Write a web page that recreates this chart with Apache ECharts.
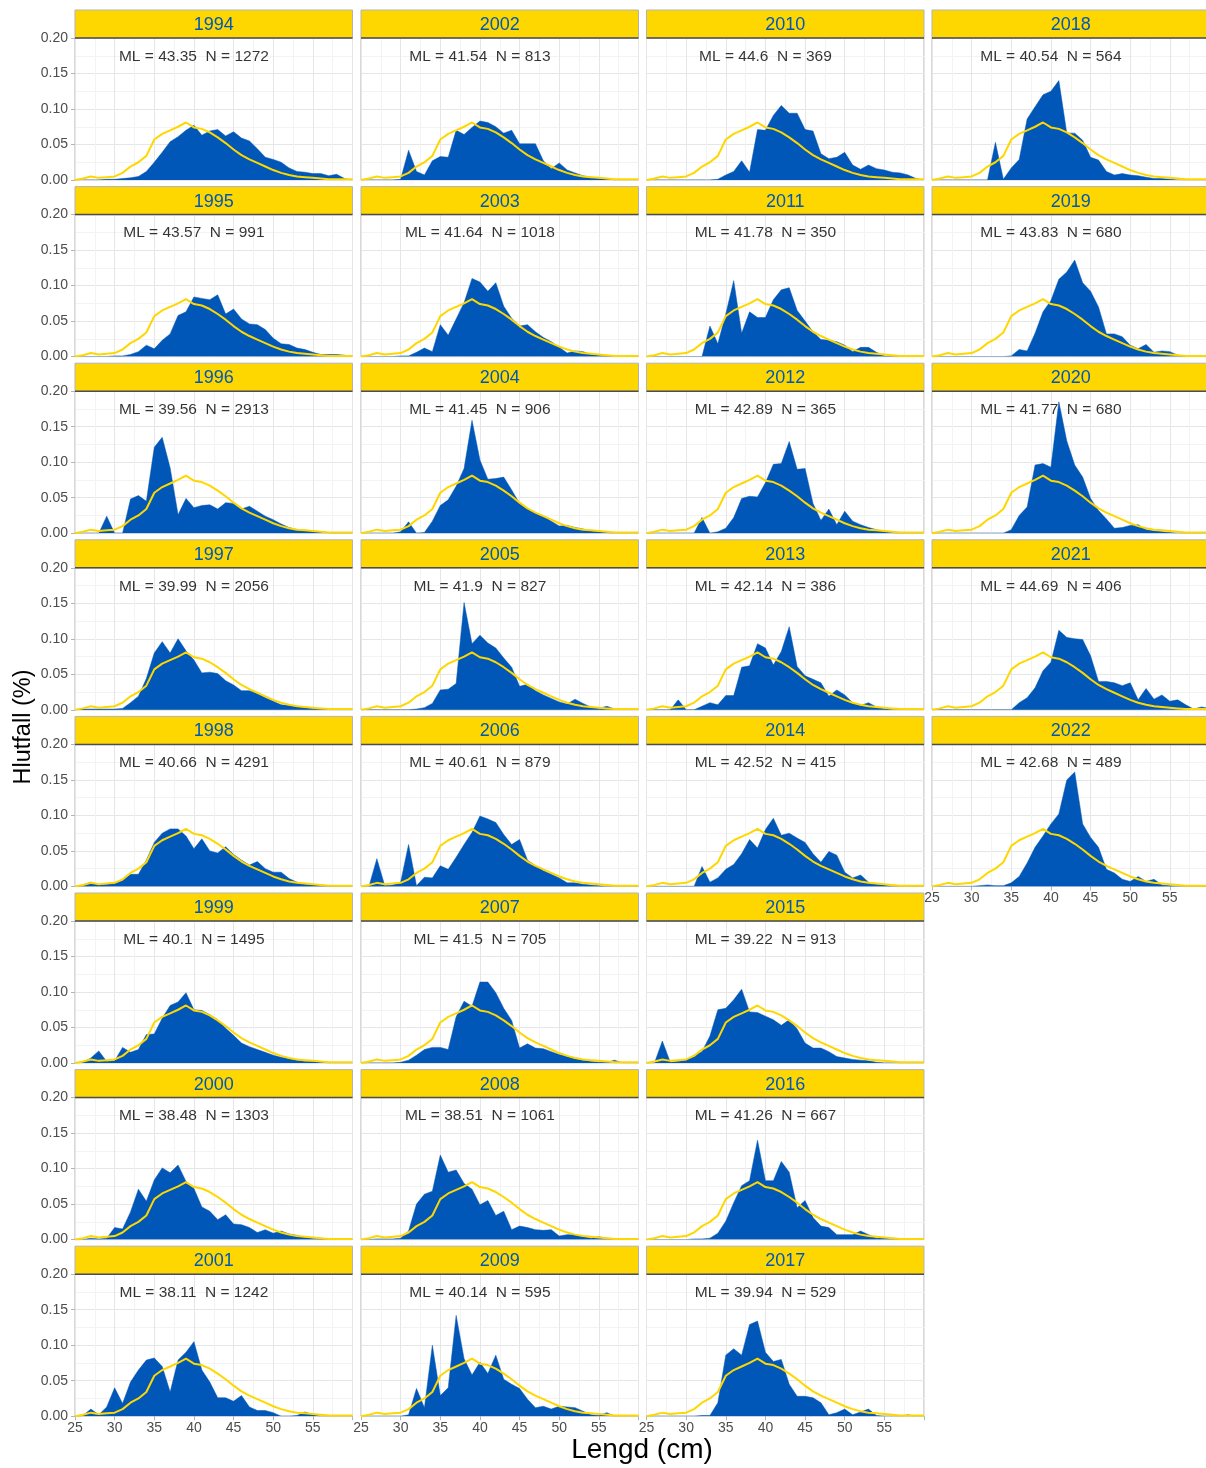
<!DOCTYPE html>
<html><head><meta charset="utf-8">
<script src="https://cdn.jsdelivr.net/npm/echarts@6/dist/echarts.min.js"></script>
<style>html,body{margin:0;padding:0;background:#fff;overflow:hidden;width:1206px;height:1468px}#c{width:1216px;height:1468px}</style>
</head><body><div id="c"></div>
<script>
// ---- data ----
const lengths = [25,26,27,28,29,30,31,32,33,34,35,36,37,38,39,40,41,42,43,44,45,46,47,48,49,50,51,52,53,54,55,56,57,58,59,60];
const xTickLabels = ['25','30','35','40','45','50','55'];
const yTickLabels = ['0.00','0.05','0.10','0.15','0.20'];
const years = [1994,1995,1996,1997,1998,1999,2000,2001,2002,2003,2004,2005,2006,2007,2008,2009,2010,2011,2012,2013,2014,2015,2016,2017,2018,2019,2020,2021,2022];
const mlValues = ['43.35','43.57','39.56','39.99','40.66','40.1','38.48','38.11','41.54','41.64','41.45','41.9','40.61','41.5','38.51','40.14','44.6','41.78','42.89','42.14','42.52','39.22','41.26','39.94','40.54','43.83','41.77','44.69','42.68'];
const nValues = [1272,991,2913,2056,4291,1495,1303,1242,813,1018,906,827,879,705,1061,595,369,350,365,386,415,913,667,529,564,680,680,406,489];

const overall = [0,.002,.005,.003,.004,.005,.010,.019,.025,.034,.057,.065,.070,.075,.081,.074,.072,.067,.060,.052,.043,.035,.029,.024,.019,.014,.010,.007,.005,.004,.003,.002,.001,.001,.001,.001];

const y1994 = [0,0,0,0,.001,.001,.002,.003,.005,.012,.025,.039,.054,.061,.070,.077,.063,.069,.071,.062,.068,.059,.055,.044,.032,.029,.025,.017,.012,.011,.009,.009,.006,.008,.002,0];
const y1995 = [0,0,0,0,0,.001,.001,.003,.007,.016,.011,.023,.032,.058,.063,.084,.082,.080,.087,.060,.067,.053,.046,.045,.038,.026,.018,.017,.012,.010,.006,.003,.003,.003,.002,0];
const y1996 = [0,0,0,0,.024,0,0,.048,.053,.045,.121,.135,.092,.026,.049,.036,.039,.040,.034,.043,.042,.034,.038,.031,.024,.019,.013,.008,.005,.004,.003,.002,.001,0,0,0];
const y1997 = [0,.001,.001,.001,.001,.001,.002,.010,.019,.044,.080,.096,.080,.100,.083,.070,.052,.053,.051,.041,.035,.027,.027,.023,.017,.012,.007,.006,.005,.003,.002,.002,.001,0,0,0];
const y1998 = [0,.002,.006,.002,.003,.004,.008,.017,.017,.037,.062,.075,.081,.081,.071,.053,.067,.050,.047,.056,.045,.037,.030,.035,.025,.020,.020,.011,.006,.003,.002,.002,.001,0,0,0];
const y1999 = [0,.001,.007,.017,.002,.003,.022,.015,.019,.040,.041,.063,.081,.086,.099,.075,.074,.068,.061,.049,.039,.028,.023,.019,.015,.011,.008,.006,.004,.002,.002,.001,0,0,0,0];
const y2000 = [0,0,.002,.001,.002,.017,.015,.039,.071,.054,.084,.101,.094,.105,.082,.072,.046,.040,.028,.035,.022,.021,.017,.010,.014,.009,.012,.008,.006,.003,.002,.001,0,0,0,0];
const y2001 = [0,.001,.010,.002,.013,.040,.018,.048,.065,.079,.082,.070,.034,.079,.090,.105,.065,.048,.026,.026,.021,.029,.013,.008,.008,.005,0,0,.001,.006,.002,0,0,0,0,0];
const y2002 = [0,0,0,0,0,.001,.042,.012,.007,.027,.033,.032,.070,.064,.074,.083,.081,.075,.066,.070,.051,.051,.051,.027,.016,.024,.014,.010,.006,.004,.002,.001,0,0,0,0];
const y2003 = [0,0,0,0,0,.001,.001,.006,.012,.007,.045,.030,.053,.076,.110,.105,.092,.104,.071,.054,.043,.045,.035,.027,.021,.013,.005,.008,.007,.003,.002,.001,0,0,0,0];
const y2004 = [0,0,0,0,0,.002,.016,0,.001,.017,.039,.047,.066,.091,.159,.103,.076,.077,.079,.061,.042,.034,.029,.024,.017,.010,.011,.008,.006,.003,.002,.001,0,0,0,0];
const y2005 = [0,0,0,0,0,0,0,.001,.003,.009,.028,.029,.037,.151,.093,.105,.094,.087,.073,.060,.033,.036,.027,.021,.016,.011,.008,.015,.009,.004,.002,.005,.001,0,0,0];
const y2006 = [0,0,.039,.001,.002,.006,.059,.001,.013,.012,.029,.024,.041,.059,.076,.099,.095,.090,.073,.059,.066,.037,.029,.022,.017,.012,.005,.005,.003,.002,.001,0,0,0,0,0];
const y2007 = [0,0,0,0,0,.001,.004,.011,.019,.022,.022,.019,.065,.087,.080,.114,.114,.099,.077,.060,.021,.027,.021,.020,.016,.012,.009,.006,.004,.002,.001,.001,.004,0,0,0];
const y2008 = [0,0,.001,.001,.001,.002,.012,.050,.064,.068,.119,.095,.098,.079,.071,.049,.055,.034,.040,.014,.019,.017,.014,.013,.014,.005,.007,.007,.004,.002,.004,.002,0,0,0,0];
const y2009 = [0,0,0,0,0,0,.002,.039,.012,.100,.029,.040,.142,.081,.058,.076,.060,.086,.052,.045,.039,.024,.012,.014,.010,.014,.013,.012,.007,.002,.001,.005,0,0,0,0];
const y2010 = [0,0,0,0,0,0,0,0,0,.001,.007,.012,.027,.011,.071,.070,.091,.105,.094,.094,.071,.069,.037,.030,.032,.039,.021,.015,.021,.016,.014,.011,.010,.007,.002,0];
const y2011 = [0,0,0,0,0,0,0,0,.043,.018,.060,.107,.033,.063,.055,.055,.080,.094,.097,.065,.050,.035,.024,.023,.021,.016,.007,.013,.013,.006,.001,0,0,0,0,0];
const y2012 = [0,0,0,0,0,0,0,.022,0,.002,.007,.022,.049,.052,.051,.071,.097,.098,.129,.090,.091,.042,.018,.034,.012,.031,.017,.012,.008,.005,.002,.001,0,0,0,0];
const y2013 = [0,0,0,0,.014,0,0,.005,.010,.007,.020,.020,.060,.062,.093,.087,.063,.082,.117,.061,.048,.043,.038,.019,.028,.021,.010,.006,.010,.004,.002,0,0,0,0,0];
const y2014 = [0,0,0,0,0,0,0,.028,.006,.012,.024,.031,.046,.066,.054,.080,.096,.072,.075,.068,.062,.046,.034,.049,.044,.020,.012,.016,.006,.003,.002,0,0,0,0,0];
const y2015 = [0,0,.031,.001,.002,.004,.011,.016,.038,.075,.077,.089,.104,.072,.071,.066,.061,.053,.061,.048,.028,.021,.021,.016,.009,.007,.005,.004,.003,.001,0,0,0,0,0,0];
const y2016 = [0,0,0,0,0,0,.001,.001,.002,.009,.026,.052,.076,.083,.140,.083,.083,.110,.095,.045,.055,.031,.019,.017,.007,.007,.007,.012,.007,.002,.003,.002,.001,0,0,0];
const y2017 = [0,0,0,0,0,0,0,.001,.001,.019,.086,.095,.086,.129,.134,.090,.077,.080,.045,.028,.028,.026,.019,.002,.005,.010,.002,.006,.010,.001,0,0,0,.002,0,0];
const y2018 = [0,0,0,0,0,0,0,0,.053,.001,.017,.029,.086,.103,.120,.125,.140,.066,.066,.056,.032,.028,.012,.007,.009,.007,.006,.004,.002,.002,.001,0,0,0,0,0];
const y2019 = [0,0,0,0,0,0,0,0,0,0,.001,.010,.008,.033,.063,.079,.109,.119,.136,.104,.092,.070,.032,.032,.028,.016,.011,.017,.006,.008,.007,.002,0,0,0,0];
const y2020 = [0,0,0,0,0,0,0,0,0,0,.005,.025,.037,.096,.098,.093,.185,.130,.096,.079,.049,.032,.020,.007,.008,.011,.012,.005,.003,.002,.001,0,0,0,0,0];
const y2021 = [0,0,0,0,0,0,0,0,0,0,0,.010,.017,.031,.055,.067,.112,.102,.100,.099,.076,.040,.040,.038,.034,.038,.014,.030,.015,.021,.012,.014,.007,.001,.004,.002];
const y2022 = [0,0,0,0,0,0,.001,.002,.001,.001,.005,.014,.033,.055,.071,.088,.102,.150,.161,.088,.069,.055,.024,.019,.010,.007,.014,.007,.010,.002,.001,0,0,0,0,0];

const yearValues = [y1994,y1995,y1996,y1997,y1998,y1999,y2000,y2001,y2002,y2003,y2004,y2005,y2006,y2007,y2008,y2009,y2010,y2011,y2012,y2013,y2014,y2015,y2016,y2017,y2018,y2019,y2020,y2021,y2022];

// ---- layout / style ----
const BLUE = '#0057B7', GOLD = '#FFD700';
const FONT = '"Liberation Sans", Arial, Helvetica, sans-serif';
const colLeft = [75, 361, 646.5, 932];
const panelW = 277.5, panelH = 142, stripH = 28, rowPitch = 176.6, firstTop = 38;

const grids = [], xAxes = [], yAxes = [], series = [], graphics = [];

years.forEach((yr, i) => {
  const col = Math.floor(i / 8), row = i % 8;
  const left = colLeft[col], top = firstTop + row * rowPitch;
  const isBottom = row === 7 || (col === 3 && row === 4);
  grids.push({left: left, top: top, width: panelW, height: panelH, show: true,
    backgroundColor: '#fff', borderColor: '#b3b3b3', borderWidth: 1, containLabel: false});
  xAxes.push({gridIndex: i, type: 'value', min: 25, max: 60, interval: 5,
    axisLine: {show: false},
    axisTick: {show: isBottom, length: 4, lineStyle: {color: '#b3b3b3'}},
    axisLabel: {show: isBottom, color: '#4d4d4d', fontSize: 14, fontFamily: FONT, margin: 5,
      formatter: v => { const k = (v - 25) / 5; return xTickLabels[k] !== undefined ? xTickLabels[k] : ''; }},
    splitLine: {show: true, lineStyle: {color: '#e6e6e6', width: 1}},
    minorTick: {show: false, splitNumber: 2},
    minorSplitLine: {show: true, lineStyle: {color: '#f3f3f3', width: 1}}
  });
  yAxes.push({gridIndex: i, type: 'value', min: 0, max: 0.2, interval: 0.05,
    axisLine: {show: false},
    axisTick: {show: col === 0, length: 4, lineStyle: {color: '#b3b3b3'}},
    axisLabel: {show: col === 0, color: '#4d4d4d', fontSize: 14, fontFamily: FONT, margin: 7,
      formatter: v => yTickLabels[Math.round(v / 0.05)]},
    splitLine: {show: true, lineStyle: {color: '#e6e6e6', width: 1}},
    minorTick: {show: false, splitNumber: 2},
    minorSplitLine: {show: true, lineStyle: {color: '#f3f3f3', width: 1}}
  });
  // annotation
  series.push({type: 'scatter', xAxisIndex: i, yAxisIndex: i, silent: true, symbolSize: 0,
    data: [[40, 0.174]], z: 1,
    label: {show: true, position: 'inside', color: '#000', fontSize: 15.5, fontFamily: FONT,
      formatter: 'ML = ' + mlValues[i] + '  N = ' + nValues[i]}});
  series.push({type: 'line', xAxisIndex: i, yAxisIndex: i, silent: true, symbol: 'none', z: 2,
    data: lengths.map((x, j) => [x, yearValues[i][j]]),
    lineStyle: {color: BLUE, width: 0.5}, areaStyle: {color: BLUE, opacity: 1}});
  series.push({type: 'line', xAxisIndex: i, yAxisIndex: i, silent: true, symbol: 'none', z: 3,
    data: lengths.map((x, j) => [x, overall[j]]),
    lineStyle: {color: GOLD, width: 2}});
  // strip
  graphics.push({type: 'rect', shape: {x: left, y: top - stripH, width: panelW, height: stripH},
    style: {fill: GOLD, stroke: '#b3b3b3', lineWidth: 1}, z: 10});
  graphics.push({type: 'line', shape: {x1: left, y1: top, x2: left + panelW, y2: top},
    style: {stroke: '#4d4d4d', lineWidth: 1.5}, z: 11});
  graphics.push({type: 'text', x: left + panelW / 2, y: top - stripH / 2 + 1, z: 12,
    style: {text: String(yr), fill: BLUE, font: '18px ' + FONT, align: 'center', verticalAlign: 'middle',
      textAlign: 'center', textVerticalAlign: 'middle'}});
});

graphics.push({type: 'text', x: 24, y: 727, rotation: Math.PI / 2, z: 12,
  style: {text: 'Hlutfall (%)', fill: '#000', font: '23.5px ' + FONT, align: 'center', verticalAlign: 'middle',
    textAlign: 'center', textVerticalAlign: 'middle'}});
graphics.push({type: 'text', x: 642, y: 1450, z: 12,
  style: {text: 'Lengd (cm)', fill: '#000', font: '28px ' + FONT, align: 'center', verticalAlign: 'middle',
    textAlign: 'center', textVerticalAlign: 'middle'}});

const chart = echarts.init(document.getElementById('c'), null, {renderer: 'canvas'});
chart.setOption({
  backgroundColor: '#fff', animation: false,
  grid: grids, xAxis: xAxes, yAxis: yAxes, series: series, graphic: graphics
});
</script></body></html>
